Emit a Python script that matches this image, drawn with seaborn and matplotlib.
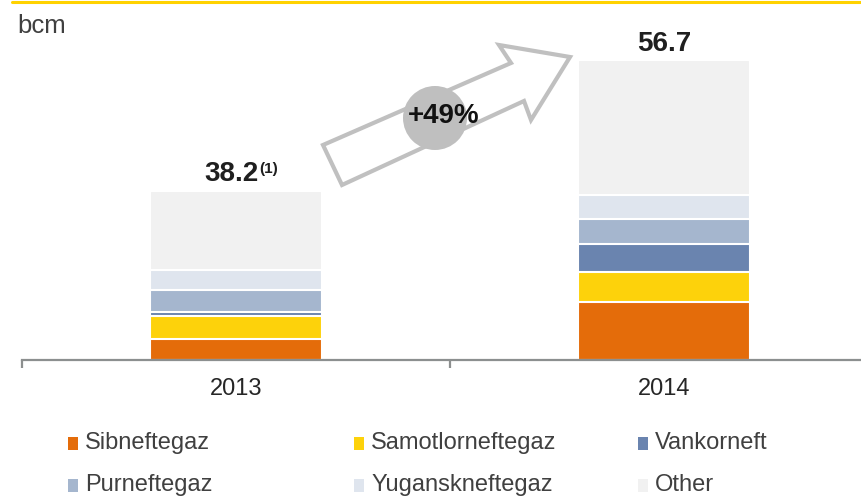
import matplotlib
matplotlib.use("Agg")
import matplotlib.pyplot as plt
import matplotlib.patches as mpatches
import seaborn as sns
import pandas as pd
import numpy as np

# ---- data (bcm) ----
years = ["2013", "2014"]
series = ["Sibneftegaz", "Samotlorneftegaz", "Vankorneft",
          "Purneftegaz", "Yuganskneftegaz", "Other"]
sibneftegaz = [3.9, 10.8]
samotlorneftegaz = [4.3, 5.7]
vankorneft = [0.7, 5.3]
purneftegaz = [4.2, 4.8]
yuganskneftegaz = [3.8, 4.5]
other = [14.9, 25.6]
total_labels = ["38.2", "56.7"]
total_notes = ["(1)", ""]
growth_label = "+49%"
unit_label = "bcm"

colors = ["#E46C0A", "#FDD20B", "#6A84AF", "#A5B6CE", "#DFE5EE", "#F1F1F1"]

values = [sibneftegaz, samotlorneftegaz, vankorneft, purneftegaz, yuganskneftegaz, other]
rows = []
for s, vals in zip(series, values):
    for y, v in zip(years, vals):
        rows.append({"year": y, "series": s, "value": v})
df = pd.DataFrame(rows)
df["series"] = pd.Categorical(df["series"], categories=series, ordered=True)
df = df.sort_values(["year", "series"])
df["cum"] = df.groupby("year")["value"].cumsum()

sns.set_theme(style="white")
plt.rcParams["font.family"] = ["Liberation Sans", "DejaVu Sans"]

W, H = 861, 496
fig = plt.figure(figsize=(W / 100, H / 100), dpi=100)
fig.patch.set_facecolor("white")

def fx(x):
    return x / W

def fy(y):
    return 1 - y / H

base_y = 359.5
ax = fig.add_axes([fx(22), fy(base_y), 839 / W, base_y / H])
ax.set_facecolor("none")

px_per_unit = 5.29
for s, c in reversed(list(zip(series, colors))):
    sub = df[df["series"] == s]
    sns.barplot(data=sub, x="year", y="cum", order=years, color=c,
                width=0.4, edgecolor="white", linewidth=1.5,
                saturation=1, ax=ax, zorder=1)

ax.set_xlabel("")
ax.set_ylabel("")
ax.set_yticks([])
for sp in ["top", "right", "left"]:
    ax.spines[sp].set_visible(False)
ax.spines["bottom"].set_color("#8C8F8F")
ax.spines["bottom"].set_linewidth(1.6)
ax.spines["bottom"].set_zorder(5)

ax.set_xticks(range(len(years)))
ax.set_xticklabels(years, fontsize=17, color="#262626")
ax.set_xticks([-0.5, 0.5, 1.5], minor=True)
ax.tick_params(axis="x", which="major", bottom=True, length=0, pad=13)
ax.tick_params(axis="x", which="minor", bottom=True, length=5.5, width=1.6,
               color="#8C8F8F")
ax.set_xlim(-0.5, 1.46)
ax.set_ylim(0, base_y / px_per_unit)

# totals on top of bars
totals = df.groupby("year")["value"].sum()
for i, y in enumerate(years):
    top = totals[y]
    if total_notes[i]:
        ax.annotate(total_labels[i], (i, top), xytext=(16, 7.5), textcoords="offset points",
                    ha="right", va="baseline", fontsize=20, fontweight="bold",
                    color="#1F1F1F", annotation_clip=False)
        ax.annotate(total_notes[i], (i, top), xytext=(16.5, 13), textcoords="offset points",
                    ha="left", va="baseline", fontsize=11, fontweight="bold",
                    color="#1F1F1F", annotation_clip=False)
    else:
        ax.annotate(total_labels[i], (i, top), xytext=(0, 6), textcoords="offset points",
                    ha="center", va="baseline", fontsize=20, fontweight="bold",
                    color="#1F1F1F", annotation_clip=False)

# unit label
fig.text(fx(17), fy(26), unit_label, ha="left", va="center", fontsize=18.5, color="#404040")

# yellow top rule
fig.add_artist(plt.Line2D([fx(12), fx(861)], [fy(1.5), fy(1.5)], color="#FFD200", lw=2.2))

# growth arrow
pts = [(323, 145), (511, 63), (499, 45), (570, 57), (531, 120), (524, 101), (342, 185)]
arrow = mpatches.Polygon([(fx(x), fy(y)) for x, y in pts], closed=True,
                         facecolor="white", edgecolor="#C0C0C0", lw=3,
                         transform=fig.transFigure, zorder=10)
fig.add_artist(arrow)
circ = mpatches.Ellipse((fx(435), fy(118)), 64 / W, 64 / H, facecolor="#BFBFBF",
                        edgecolor="none", transform=fig.transFigure, zorder=11)
fig.add_artist(circ)
fig.text(fx(444), fy(116), growth_label, ha="center", va="center", fontsize=20,
         fontweight="bold", color="#111111", zorder=12)

# legend
col_x = [68, 354, 638]
row_y = [443, 485]
for i, (s, c) in enumerate(zip(series, colors)):
    cx = col_x[i % 3]
    cy = row_y[i // 3]
    rect = mpatches.Rectangle((fx(cx), fy(cy + 7)), 10 / W, 13 / H, facecolor=c,
                              edgecolor="none", transform=fig.transFigure)
    fig.add_artist(rect)
    fig.text(fx(cx + 17), fy(cy), s, ha="left", va="center", fontsize=17, color="#404040")

fig.savefig("out.png", dpi=100, facecolor="white")
